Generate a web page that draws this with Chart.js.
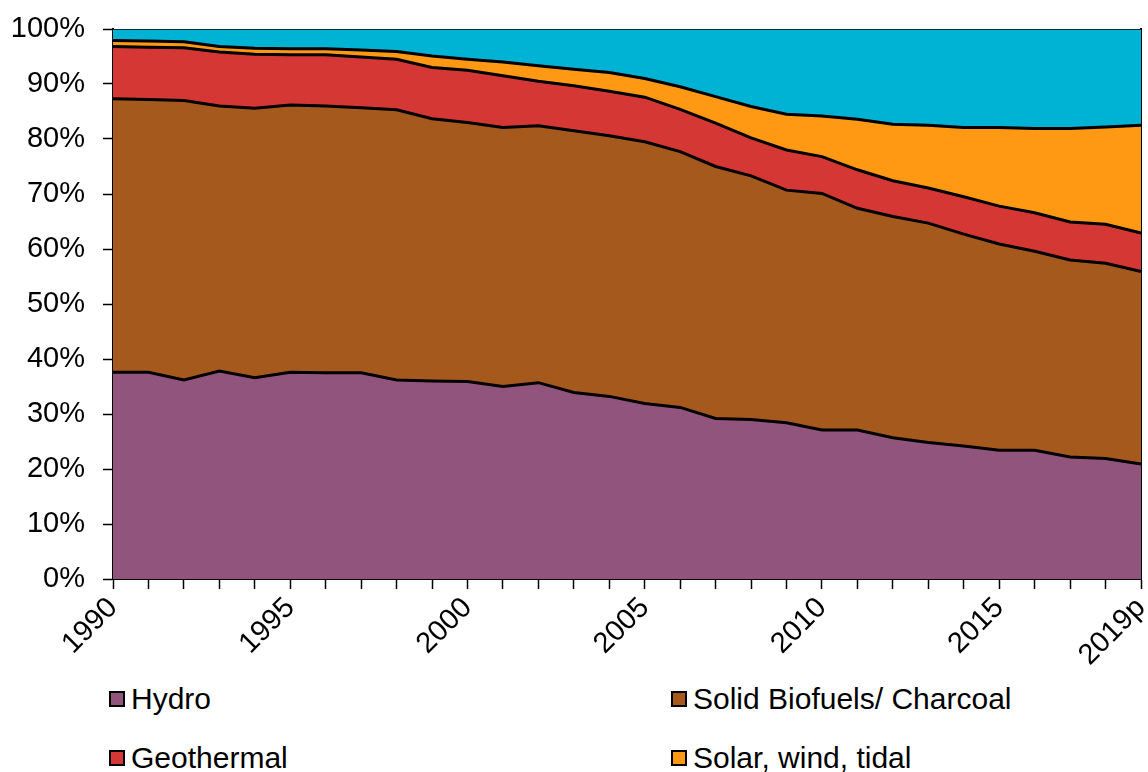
<!DOCTYPE html>
<html>
<head>
<meta charset="utf-8">
<script src="https://cdn.jsdelivr.net/npm/chart.js@4.4.1/dist/chart.umd.min.js"></script>
<style>
  body { margin: 0; background: #fff; font-family: "Liberation Sans", Arial, sans-serif; }
  #wrap { position: relative; width: 1148px; height: 772px; overflow: hidden; }
  #chart { position: absolute; left: 0; top: 0; }
  .item { position: absolute; height: 30px; line-height: 30px; font-size: 30px; color: #000; white-space: nowrap; }
  .box { position: absolute; width: 16px; height: 16px; box-sizing: border-box; border: 2px solid #000; }
</style>
</head>
<body>
<div id="wrap">
  <canvas id="chart" width="1148" height="680"></canvas>
  <div id="legend"></div>
</div>
<script>
const years = ['1990', '1991', '1992', '1993', '1994', '1995', '1996', '1997', '1998', '1999',
  '2000', '2001', '2002', '2003', '2004', '2005', '2006', '2007', '2008', '2009',
  '2010', '2011', '2012', '2013', '2014', '2015', '2016', '2017', '2018', '2019p'];
const shownTicks = ['1990', '1995', '2000', '2005', '2010', '2015', '2019p'];

// shares of total, %
const hydro = [37.6, 37.6, 36.2, 37.8, 36.6, 37.6, 37.5, 37.5, 36.2, 36.0,
  35.9, 35.0, 35.7, 33.9, 33.2, 31.9, 31.2, 29.2, 29.0, 28.4,
  27.1, 27.1, 25.7, 24.8, 24.2, 23.4, 23.4, 22.2, 21.9, 20.9];
const solidBiofuels = [49.7, 49.6, 50.8, 48.2, 49.0, 48.6, 48.5, 48.2, 49.1, 47.7,
  47.1, 47.1, 46.7, 47.6, 47.4, 47.6, 46.5, 45.8, 44.3, 42.3,
  43.0, 40.3, 40.2, 39.9, 38.5, 37.5, 36.2, 35.8, 35.5, 35.0];
const geothermal = [9.5, 9.5, 9.6, 9.8, 9.8, 9.1, 9.3, 9.2, 9.2, 9.3,
  9.5, 9.4, 8.1, 8.2, 8.1, 8.1, 7.7, 7.9, 6.9, 7.3,
  6.7, 7.0, 6.5, 6.4, 6.8, 6.9, 7.0, 6.9, 7.1, 7.0];
const solarWindTidal = [1.1, 1.1, 1.1, 1.0, 1.1, 1.1, 1.1, 1.3, 1.4, 2.1,
  2.0, 2.5, 2.8, 3.0, 3.4, 3.4, 4.1, 4.8, 5.7, 6.5,
  7.4, 9.2, 10.3, 11.4, 12.6, 14.3, 15.3, 17.0, 17.7, 19.6];
const other = [2.1, 2.2, 2.3, 3.2, 3.5, 3.6, 3.6, 3.8, 4.1, 4.9,
  5.5, 6.0, 6.7, 7.3, 7.9, 9.0, 10.5, 12.3, 14.1, 15.5,
  15.8, 16.4, 17.3, 17.5, 17.9, 17.9, 18.1, 18.1, 17.8, 17.5];

const series = [
  { label: 'Hydro', data: hydro, color: '#91557D' },
  { label: 'Solid Biofuels/ Charcoal', data: solidBiofuels, color: '#A6591D' },
  { label: 'Geothermal', data: geothermal, color: '#D43734' },
  { label: 'Solar, wind, tidal', data: solarWindTidal, color: '#FF9914' },
  { label: 'Other', data: other, color: '#00B2D4' }
];

const font = { family: '"Liberation Sans", Arial, sans-serif', size: 29 };

const datasets = series.map((s, i) => ({
  label: s.label,
  data: s.data,
  backgroundColor: s.color,
  borderColor: '#000',
  borderWidth: i === 4 ? 1.5 : 3,
  fill: i === 0 ? 'origin' : '-1',
  pointRadius: 0,
  tension: 0
}));

// keep the plot area where the source has it, no label overhang padding
function noPad(scale) {
  scale.paddingLeft = 0;
  scale.paddingRight = 0;
  scale.paddingTop = 0;
  scale.paddingBottom = 0;
}

new Chart(document.getElementById('chart'), {
  type: 'line',
  data: { labels: years, datasets: datasets },
  options: {
    responsive: false,
    animation: false,
    devicePixelRatio: 1,
    layout: { padding: { top: 29, right: 5, left: 0, bottom: 0 } },
    plugins: {
      legend: { display: false },
      tooltip: { enabled: false },
      filler: { drawTime: 'beforeDatasetsDraw' }
    },
    scales: {
      x: {
        offset: false,
        grid: { drawOnChartArea: false, drawTicks: true, tickLength: 10, tickColor: '#000', tickWidth: 1.5 },
        border: { color: '#000', width: 2 },
        ticks: {
          autoSkip: false,
          minRotation: 45,
          maxRotation: 45,
          padding: 2,
          color: '#000',
          font: font,
          callback: function (val, i) {
            const lab = years[i];
            return shownTicks.includes(lab) ? lab : '';
          }
        },
        afterFit: function (scale) { scale.height = 101; noPad(scale); }
      },
      y: {
        stacked: true,
        min: 0,
        max: 100,
        grid: { drawOnChartArea: false, drawTicks: true, tickLength: 10, tickColor: '#000', tickWidth: 1.5 },
        border: { color: '#000', width: 2 },
        ticks: {
          stepSize: 10,
          padding: 18,
          color: '#000',
          font: font,
          callback: v => v + '%'
        },
        afterFit: function (scale) { scale.width = 113; noPad(scale); }
      },
      y2: {
        position: 'right',
        grid: { drawOnChartArea: false, drawTicks: false },
        border: { color: '#000', width: 2 },
        ticks: { display: false },
        afterFit: function (scale) { scale.width = 2; noPad(scale); }
      }
    }
  }
});

// legend in two columns, as in the source layout (first four entries)
const legendPos = [
  { x: 109, y: 691 }, { x: 671, y: 691 },
  { x: 109, y: 750 }, { x: 671, y: 750 }
];
const legend = document.getElementById('legend');
series.slice(0, 4).forEach((s, i) => {
  const p = legendPos[i];
  const box = document.createElement('div');
  box.className = 'box';
  box.style.left = p.x + 'px';
  box.style.top = p.y + 'px';
  box.style.background = s.color;
  legend.appendChild(box);
  const txt = document.createElement('div');
  txt.className = 'item';
  txt.style.left = (p.x + 22) + 'px';
  txt.style.top = (p.y - 7) + 'px';
  txt.textContent = s.label;
  legend.appendChild(txt);
});
</script>
</body>
</html>
